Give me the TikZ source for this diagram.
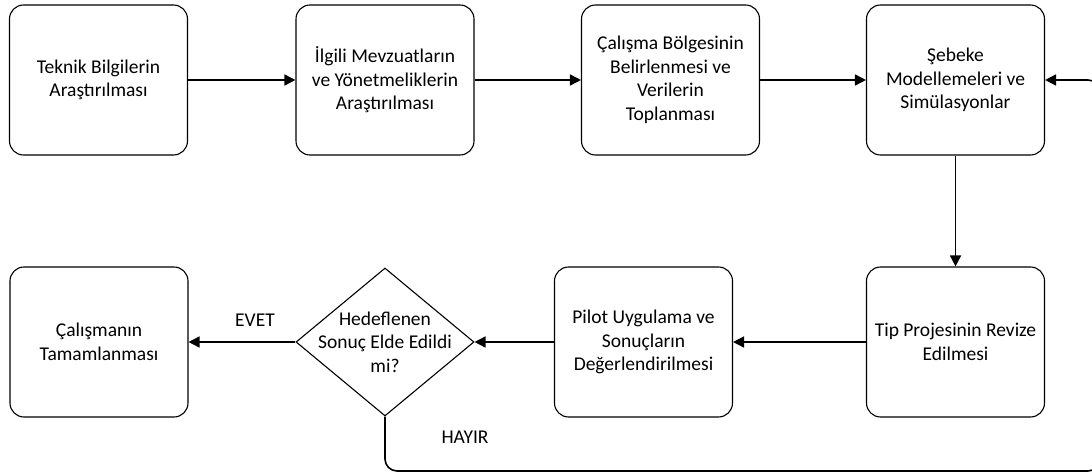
\documentclass[tikz,border=0pt]{standalone}
\usepackage{fontspec}
\setmainfont{Carlito}
\usetikzlibrary{shapes.geometric,arrows.meta}
\tikzset{%
etap/.style={draw,rounded corners=14pt,minimum width=178pt,minimum height=150pt,inner sep=2pt,align=center,line width=1.1pt},
karar/.style={draw,diamond,minimum width=178pt,minimum height=148pt,inner xsep=-40pt,inner ysep=-30pt,align=center,line width=1.1pt},
ok/.style={-{Triangle[length=11pt,width=11pt]},line width=1.6pt},
}

\begin{document}
\begin{tikzpicture}[x=1pt,y=-1pt,
                    every node/.append style={font=\fontsize{19.5}{23.5}\selectfont}]

\clip (0,0) rectangle (1092,473);

\node[etap] (teknik) at (98.5,80) {Teknik Bilgilerin\\Araştırılması};
\node[etap] (mevzuat) at (385,80) {İlgili Mevzuatların\\ve Yönetmeliklerin\\Araştırılması};
\node[etap] (bolge) at (670.5,80) {Çalışma Bölgesinin\\Belirlenmesi ve\\Verilerin\\Toplanması};
\node[etap] (sebeke) at (955.5,80) {Şebeke\\Modellemeleri ve\\Simülasyonlar};

\node[etap] (tip) at (955.5,342) {Tip Projesinin Revize\\Edilmesi};
\node[etap] (pilot) at (643.5,342) {Pilot Uygulama ve\\Sonuçların\\Değerlendirilmesi};
\node[karar] (hedef) at (385,342) {Hedeflenen\\Sonuç Elde Edildi\\mi?};
\node[etap] (tamam) at (99,342) {Çalışmanın\\Tamamlanması};

\draw[ok] (teknik) -- (mevzuat);
\draw[ok] (mevzuat) -- (bolge);
\draw[ok] (bolge) -- (sebeke);
\draw[ok] (sebeke) -- (tip);
\draw[ok] (tip) -- (pilot);
\draw[ok] (pilot) -- (hedef);
\draw[ok] (hedef) -- (tamam);
\draw[ok,rounded corners=12pt] (hedef.south) |- (1100,471) |- (sebeke.east);

\node (evet) at (255,320) {EVET};
\node (hayir) at (465,437) {HAYIR};
\end{tikzpicture}
\end{document}
